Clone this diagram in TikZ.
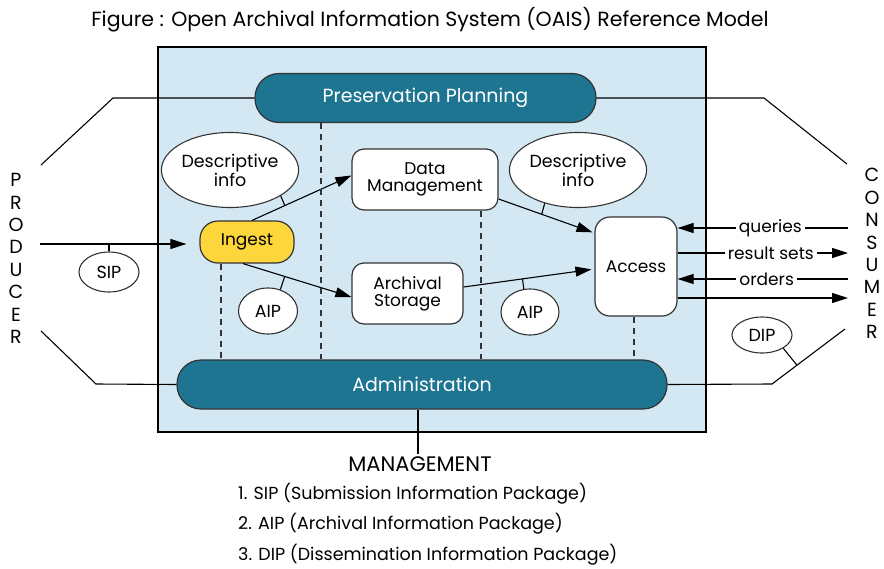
\documentclass[tikz,border=0pt]{standalone}
\usepackage{fontspec}
\setmainfont{Poppins}
\usetikzlibrary{shapes.geometric,arrows.meta,calc}
\definecolor{boxblue}{HTML}{D3E8F3}
\definecolor{oaisteal}{HTML}{1E7591}
\definecolor{ingestyellow}{HTML}{FDD63B}
\definecolor{edgegray}{HTML}{333333}
\begin{document}
\begin{tikzpicture}[x=1pt,y=-1pt,
  every node/.style={font=\fontsize{17}{17}\selectfont},
  ln/.style={draw=black, line width=1.1pt},
  arr/.style={ln, -{Triangle[length=16pt,width=10pt]}},
  dashline/.style={draw=edgegray, line width=1.1pt, dash pattern=on 6pt off 5pt},
  pill/.style={draw=edgegray, line width=1.2pt, fill=oaisteal, text=white, rounded corners=24pt, minimum height=49pt, inner sep=0pt, font=\fontsize{19}{19}\selectfont},
  wbox/.style={draw=edgegray, line width=1.2pt, fill=white, rounded corners=12pt, inner sep=0pt, align=center, font=\fontsize{17}{17}\selectfont},
  oval/.style={ellipse, draw=edgegray, line width=1.1pt, fill=white, inner sep=0pt, align=center, font=\fontsize{17.5}{17}\selectfont},
  lbl/.style={fill=white, inner sep=3pt, font=\fontsize{17}{17}\selectfont},
  vtext/.style={align=center, inner sep=0pt, font=\fontsize{19}{22.4}\selectfont}
]
\useasboundingbox (0,0) rectangle (884,568);

% title
\node[font=\fontsize{20.5}{22}\selectfont] (title) at (430,20) {Figure : Open Archival Information System (OAIS) Reference Model};

% main system box
\node[draw=black, line width=2pt, fill=boxblue, minimum width=548pt, minimum height=385pt, inner sep=0pt] (oais) at (432,239.5) {};

% big pills
\node[pill, minimum width=341pt] (pp) at (425.5,98) {Preservation Planning};
\node[pill, minimum width=490pt] (admin) at (422,384.5) {Administration};

% functional boxes
\node[wbox, fill=ingestyellow, rounded corners=18pt, minimum width=94pt, minimum height=42pt] (ingest) at (247,242) {Ingest};
\node[wbox, minimum width=146pt, minimum height=61pt] (dm) at (425,179.5) {Data\\Management};
\node[wbox, minimum width=111pt, minimum height=61pt] (as) at (407.5,293.5) {Archival\\Storage};
\node[wbox, rounded corners=15pt, minimum width=82pt, minimum height=99pt] (access) at (636,266.5) {Access};

% ovals
\node[oval, minimum width=119pt, minimum height=75pt] (desc1) at (230,170) {Descriptive\\info};
\node[oval, minimum width=120pt, minimum height=75pt] (desc2) at (578,170) {Descriptive\\info};
\node[oval, minimum width=60pt, minimum height=40pt] (sip) at (109,272) {SIP};
\node[oval, minimum width=59pt, minimum height=46pt] (aip1) at (268,311) {AIP};
\node[oval, minimum width=58pt, minimum height=46pt] (aip2) at (530,312) {AIP};
\node[oval, minimum width=60pt, minimum height=36pt] (dip) at (762,335) {DIP};

% side labels
\node[vtext] (producer) at (16,258.5) {P\\R\\O\\D\\U\\C\\E\\R};
\node[vtext] (consumer) at (872,253.5) {C\\O\\N\\S\\U\\M\\E\\R};

% bottom labels
\node[font=\fontsize{21}{22}\selectfont, inner sep=2pt] (mgmt) at (420,464) {MANAGEMENT};
\node[anchor=west, inner sep=0pt, font=\fontsize{17.5}{18}\selectfont] (l1) at (238,494) {1. SIP (Submission Information Package)};
\node[anchor=west, inner sep=0pt, font=\fontsize{17.5}{18}\selectfont] (l2) at (238,524) {2. AIP (Archival Information Package)};
\node[anchor=west, inner sep=0pt, font=\fontsize{17.5}{18}\selectfont] (l3) at (238,555) {3. DIP (Dissemination Information Package)};

% coordinates for free ends
\coordinate (prodin) at (40,244);
\coordinate (pul) at (41,165);
\coordinate (pulb) at (113,98);
\coordinate (pll) at (41,331);
\coordinate (pllb) at (96,384);
\coordinate (cur) at (847,164);
\coordinate (curb) at (764,98);
\coordinate (clr) at (845,329);
\coordinate (clrb) at (772,384);
\coordinate (cq) at (848,228);
\coordinate (cr) at (848,253);
\coordinate (co) at (848,279);
\coordinate (cd) at (848,298);

% producer side
\draw[arr, shorten >=13pt] (prodin) -- (prodin -| ingest.west);
\draw[ln] (sip.north) -- (sip.north |- prodin);
\draw[ln] (pul) -- (pulb) -- (pp.west);
\draw[ln] (pll) -- (pllb) -- (admin.west);

% consumer side
\draw[ln] (pp.east) -- (curb) -- (cur);
\draw[ln] (admin.east) -- (clrb) -- (clr);
\path (clrb) -- (clr) coordinate[pos=0.342] (tdip);
\draw[ln] (dip.-32) -- (tdip);

% internal flows
\draw[arr] ([xshift=5pt]ingest.north) -- ([yshift=4pt]dm.west);
\path ([xshift=5pt]ingest.north) -- ([yshift=4pt]dm.west) coordinate[pos=0.33] (t1);
\draw[ln] (desc1.-27) -- (t1);

\draw[arr] ([xshift=-4pt]ingest.south) -- ([yshift=-3.5pt]as.west);
\path ([xshift=-4pt]ingest.south) -- ([yshift=-3.5pt]as.west) coordinate[pos=0.385] (t2);
\draw[ln] (aip1.60) -- (t2);

\draw[arr, shorten >=2pt] ([yshift=-19.5pt]dm.east) -- ([yshift=33.5pt]access.west);
\path ([yshift=-19.5pt]dm.east) -- ([yshift=33.5pt]access.west) coordinate[pos=0.45] (t3);
\draw[ln] (desc2.-135) -- (t3);

\draw[arr, shorten >=3pt] ([yshift=6.5pt]as.east) -- ([yshift=-2.5pt]access.west);
\path ([yshift=6.5pt]as.east) -- ([yshift=-2.5pt]access.west) coordinate[pos=0.45] (t4);
\draw[ln] (aip2.105) -- (t4);

% dashed links to administration / planning
\draw[dashline] ([xshift=-26pt]ingest.south) -- ([xshift=-26pt]ingest.south |- admin.north);
\draw[dashline] ([xshift=-104.5pt]pp.south) -- ([xshift=-104.5pt]pp.south |- admin.north);
\draw[dashline] ([xshift=56pt]dm.south) -- ([xshift=56pt]dm.south |- admin.north);
\draw[dashline] ([xshift=-2pt]access.south) -- ([xshift=-2pt]access.south |- admin.north);

% access to consumer
\draw[arr] (cq) -- (cq -| access.east) node[lbl, pos=0.456] {queries};
\draw[arr] (cr -| access.east) -- (cr) node[lbl, pos=0.547] {result sets};
\draw[arr] (co) -- (co -| access.east) node[lbl, pos=0.477] {orders};
\draw[arr] (cd -| access.east) -- (cd);

% management
\draw[ln] ([xshift=-4pt]admin.south) -- ([xshift=-4pt]admin.south |- mgmt.north);
\end{tikzpicture}
\end{document}
